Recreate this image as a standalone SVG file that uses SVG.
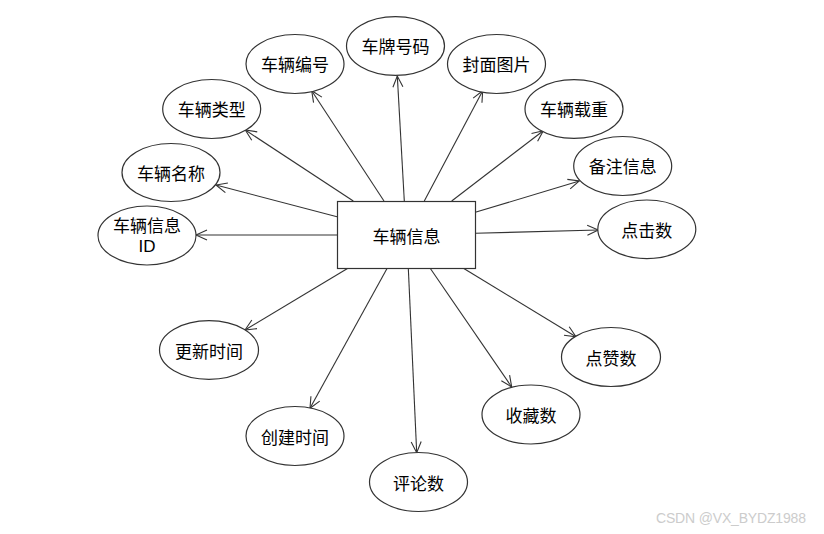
<svg xmlns="http://www.w3.org/2000/svg" width="824" height="534" viewBox="0 0 824 534">
<defs>
<style>
.n ellipse,.n rect{fill:#fff;stroke:#333;stroke-width:1.2}
.n text{font-family:"Noto Sans CJK SC","Noto Sans",sans-serif;font-size:17px;fill:#000;text-anchor:middle;dominant-baseline:central}
.n text.lat{font-family:"Liberation Sans","DejaVu Sans",sans-serif}
#edges line{stroke:#333;stroke-width:1.1;marker-end:url(#arr)}
.wm{font-family:"Liberation Sans","DejaVu Sans",sans-serif;font-size:14px;fill:#cccccc}
</style>
<marker id="arr" markerUnits="userSpaceOnUse" markerWidth="14" markerHeight="14" viewBox="-12 -7 14 14" refX="0" refY="0" orient="auto">
<path d="M-11,-5 L0,0 L-11,5" fill="none" stroke="#333" stroke-width="1.1"/>
</marker>
</defs>
<rect width="824" height="534" fill="#fff"/>
<g id="edges">
<line x1="337" y1="235" x2="196" y2="235"/>
<line x1="337" y1="216.7" x2="216" y2="185"/>
<line x1="353.3" y1="201" x2="245.3" y2="130"/>
<line x1="384" y1="201" x2="311.7" y2="90.7"/>
<line x1="404.3" y1="201" x2="397.3" y2="76"/>
<line x1="424.3" y1="201" x2="482.7" y2="90.7"/>
<line x1="451.7" y1="201" x2="543.3" y2="130.7"/>
<line x1="475.3" y1="212.3" x2="579.3" y2="181"/>
<line x1="475.3" y1="233.3" x2="598.3" y2="230"/>
<line x1="463" y1="268" x2="576" y2="336.7"/>
<line x1="430" y1="268" x2="511.7" y2="387"/>
<line x1="408.3" y1="268" x2="416.7" y2="452.7"/>
<line x1="387.3" y1="268" x2="310" y2="408.3"/>
<line x1="348.3" y1="268" x2="245" y2="330"/>
</g>
<g id="center" class="n"><rect x="337.5" y="201.5" width="138" height="67"/><text x="406.5" y="235">车辆信息</text></g>
<g id="a_id" class="n"><ellipse cx="147" cy="235.5" rx="49" ry="29.5"/><text x="147" y="224.5">车辆信息</text><text class="lat" x="147" y="246.5">ID</text></g>
<g id="a_name" class="n"><ellipse cx="171" cy="172.5" rx="49" ry="29"/><text x="171" y="172">车辆名称</text></g>
<g id="a_type" class="n"><ellipse cx="211.7" cy="109" rx="49" ry="29.5"/><text x="211.7" y="108.5">车辆类型</text></g>
<g id="a_no" class="n"><ellipse cx="295" cy="64" rx="49" ry="29.5"/><text x="295" y="63">车辆编号</text></g>
<g id="a_plate" class="n"><ellipse cx="395.5" cy="46" rx="49" ry="29.3"/><text x="395.5" y="45">车牌号码</text></g>
<g id="a_cover" class="n"><ellipse cx="496.5" cy="64" rx="49" ry="29.5"/><text x="496.5" y="63">封面图片</text></g>
<g id="a_load" class="n"><ellipse cx="574" cy="109" rx="49" ry="29.3"/><text x="574" y="108.5">车辆载重</text></g>
<g id="a_note" class="n"><ellipse cx="622.7" cy="166" rx="49" ry="29.5"/><text x="622.7" y="165.5">备注信息</text></g>
<g id="a_click" class="n"><ellipse cx="646.8" cy="229.3" rx="49" ry="29.3"/><text x="646.8" y="229">点击数</text></g>
<g id="a_like" class="n"><ellipse cx="611" cy="357" rx="49.5" ry="29.5"/><text x="611" y="357">点赞数</text></g>
<g id="a_fav" class="n"><ellipse cx="531" cy="414.5" rx="49" ry="29.5"/><text x="531" y="414">收藏数</text></g>
<g id="a_comment" class="n"><ellipse cx="418.5" cy="482" rx="49" ry="29.5"/><text x="418.5" y="482">评论数</text></g>
<g id="a_create" class="n"><ellipse cx="295" cy="436" rx="49" ry="29.5"/><text x="295" y="436">创建时间</text></g>
<g id="a_update" class="n"><ellipse cx="209" cy="350" rx="49.5" ry="29.3"/><text x="209" y="350">更新时间</text></g>
<text class="wm" x="656" y="523" textLength="150">CSDN @VX_BYDZ1988</text>
</svg>
